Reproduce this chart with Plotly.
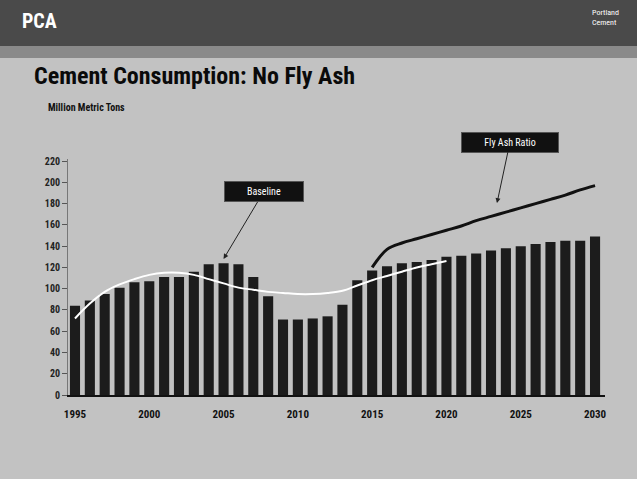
import plotly.graph_objects as go

years = list(range(1995, 2031))
consumption = [84, 89, 95, 101, 106, 107, 111, 111, 116, 123, 124, 123,
               111, 93, 71, 71, 72, 74, 85, 108, 117, 121, 124, 125,
               127, 130, 131, 133, 136, 138, 140, 142, 144, 145, 145, 149]

baseline_years = list(range(1995, 2021))
baseline = [72, 86, 97, 104, 109, 113, 115, 115, 113, 109, 105, 101,
            99, 97, 96, 95, 95, 96, 98, 103, 108, 112, 116, 120, 123, 126]

noflyash_years = list(range(2015, 2031))
noflyash = [120, 137, 143, 147, 151, 155, 159, 164, 168, 172, 176, 180,
            184, 188, 193, 197]

y_ticks = [0, 20, 40, 60, 80, 100, 120, 140, 160, 180, 200, 220]
x_ticks = [1995, 2000, 2005, 2010, 2015, 2020, 2025, 2030]

BG = "#c2c2c2"
FONT = "Liberation Sans Narrow, Roboto Condensed, DejaVu Sans Condensed, Liberation Sans, sans-serif"

fig = go.Figure()
fig.add_trace(go.Bar(x=years, y=consumption, marker=dict(color="#1c1c1c", line=dict(width=0)),
                     width=0.68, showlegend=False))
fig.add_trace(go.Scatter(x=baseline_years, y=baseline, mode="lines",
                         line=dict(color="white", width=2, shape="spline"), showlegend=False))
fig.add_trace(go.Scatter(x=noflyash_years, y=noflyash, mode="lines",
                         line=dict(color="#111111", width=3, shape="spline"), showlegend=False))

H = 479 - 159 - 84
fig.update_layout(
    width=637, height=479,
    margin=dict(l=68, r=32, t=159, b=84),
    paper_bgcolor=BG, plot_bgcolor=BG,
    font=dict(family=FONT, color="#111111"),
    xaxis=dict(range=[1994.53, 2030.67], tickvals=x_ticks,
               ticktext=[f"<b>{t}</b>" for t in x_ticks],
               tickfont=dict(size=11, color="#111111"),
               showgrid=False, zeroline=False, showline=True, linecolor="#111111",
               linewidth=2, ticks="", ticklabelstandoff=8),
    yaxis=dict(range=[0, 222], tickvals=y_ticks,
               ticktext=[f"<b>{t}</b>" for t in y_ticks],
               tickfont=dict(size=10, color="#222222"),
               showgrid=False, zeroline=False, showline=True, linecolor="#777777",
               linewidth=1, ticks="outside", ticklen=5, tickcolor="#555555"),
    shapes=[
        dict(type="rect", xref="paper", yref="paper", x0=-0.2, x1=1.2,
             y0=(479 - 46 - 84) / H, y1=(479 + 10 - 84) / H,
             fillcolor="#4a4a4a", line=dict(width=0), layer="below"),
        dict(type="rect", xref="paper", yref="paper", x0=-0.2, x1=1.2,
             y0=(479 - 58 - 84) / H, y1=(479 - 46 - 84) / H,
             fillcolor="#8a8a8a", line=dict(width=0), layer="below"),
    ],
    annotations=[
        dict(text="<b>PCA</b>", xref="paper", yref="paper",
             x=(20 - 68) / 537, y=(479 - 21 - 84) / H, xanchor="left", yanchor="middle",
             showarrow=False, font=dict(size=20, color="white", family=FONT)),
        dict(text="Portland<br>Cement", xref="paper", yref="paper",
             x=(590 - 68) / 537, y=(479 - 17 - 84) / H, xanchor="left", yanchor="middle",
             showarrow=False, align="left", font=dict(size=8, color="white", family=FONT)),
        dict(text="<b>Cement Consumption: No Fly Ash</b>", xref="paper", yref="paper",
             x=(32 - 68) / 537, y=(479 - 76 - 84) / H, xanchor="left", yanchor="middle",
             showarrow=False, font=dict(size=24, color="#0a0a0a", family=FONT)),
        dict(text="<b>Million Metric Tons</b>", xref="paper", yref="paper",
             x=(46 - 68) / 537, y=(479 - 108 - 84) / H, xanchor="left", yanchor="middle",
             showarrow=False, font=dict(size=10, color="#111111", family=FONT)),
        dict(text="Baseline", x=2005, y=128, xref="x", yref="y",
             ax=40, ay=-67, showarrow=True, arrowhead=2, arrowsize=1, arrowwidth=1,
             arrowcolor="#222222", bgcolor="#111111", bordercolor="#555555", borderwidth=1,
             borderpad=4, width=70, font=dict(size=10, color="white", family=FONT)),
        dict(text="Fly Ash Ratio", x=2023.4, y=180.5, xref="x", yref="y",
             ax=13, ay=-61, showarrow=True, arrowhead=2, arrowsize=1, arrowwidth=1,
             arrowcolor="#222222", bgcolor="#111111", bordercolor="#555555", borderwidth=1,
             borderpad=4, width=88, font=dict(size=10, color="white", family=FONT)),
    ],
)

fig.write_html("out.html", config={"displayModeBar": False},
               post_script="document.body.style.margin='0';")
